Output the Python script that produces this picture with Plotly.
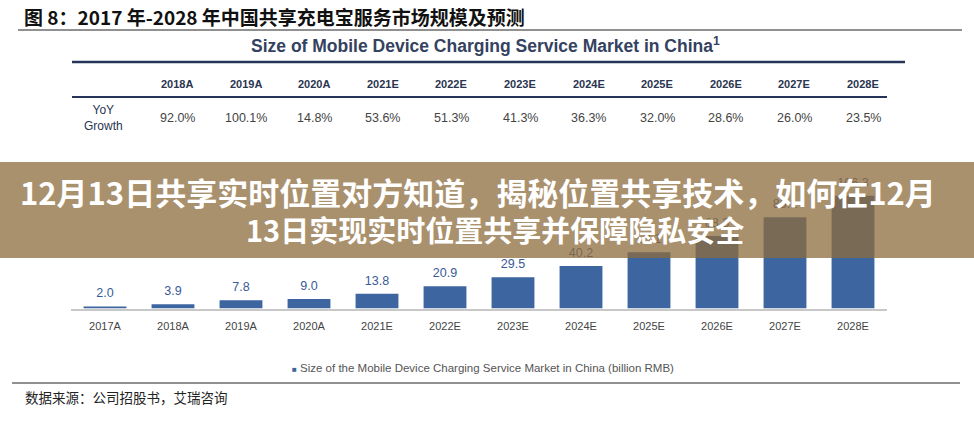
import plotly.graph_objects as go

W, H = 974, 421

# ---- data ----
categories = ["2017A", "2018A", "2019A", "2020A", "2021E", "2022E",
              "2023E", "2024E", "2025E", "2026E", "2027E", "2028E"]
market_size = [2.0, 3.9, 7.8, 9.0, 13.8, 20.9, 29.5, 40.2, 53.1, 68.3, 86.1, 106.3]

table_years = ["2018A", "2019A", "2020A", "2021E", "2022E", "2023E",
               "2024E", "2025E", "2026E", "2027E", "2028E"]
yoy_growth = ["92.0%", "100.1%", "14.8%", "53.6%", "51.3%", "41.3%",
              "36.3%", "32.0%", "28.6%", "26.0%", "23.5%"]

fig_title = "图 8：2017 年-2028 年中国共享充电宝服务市场规模及预测"
chart_title = "Size of Mobile Device Charging Service Market in China<sup>1</sup>"
legend_text = "Size of the Mobile Device Charging Service Market in China (billion RMB)"
source_text = "数据来源：公司招股书，艾瑞咨询"
banner_line1 = "12月13日共享实时位置对方知道，揭秘位置共享技术，如何在12月"
banner_line2 = "13日实现实时位置共享并保障隐私安全"


def px(x):
    return x / W


def py(y):
    return 1 - y / H


BAR = "#3d65a0"
NAVY = "#26345a"
LAT = "Liberation Sans, Arial, sans-serif"
CJK = "Noto Sans CJK SC, sans-serif"

fig = go.Figure()
fig.add_trace(go.Bar(
    x=categories, y=market_size, marker=dict(color=BAR, line=dict(width=0)),
    width=0.63, hoverinfo="skip", showlegend=False,
))
fig.add_trace(go.Scatter(
    x=categories, y=market_size, mode="markers+text",
    text=[f"{v:.1f}" for v in market_size], textposition="top center",
    marker=dict(size=8, color="rgba(0,0,0,0)"),
    textfont=dict(family=LAT, size=12.5, color="#3a5a95"),
    cliponaxis=False, hoverinfo="skip", showlegend=False,
))

base_y, top_y = 308.5, 190
ppu = 1.06
fig.update_layout(
    width=W, height=H, autosize=False,
    margin=dict(l=0, r=0, t=0, b=0),
    paper_bgcolor="white", plot_bgcolor="white",
    xaxis=dict(domain=[px(71), px(887)], range=[-0.5, 11.5], type="category",
               showline=True, linecolor="#c8c8c8", linewidth=2, ticks="",
               showgrid=False, zeroline=False, ticklabelstandoff=6,
               tickfont=dict(family=LAT, size=11, color="#444")),
    yaxis=dict(domain=[py(base_y), py(top_y)], range=[0, (base_y - top_y) / ppu],
               visible=False, showgrid=False, zeroline=False),
    bargap=0.3,
)

shapes = [
    dict(type="line", xref="paper", yref="paper", x0=px(18), x1=px(962), y0=py(30), y1=py(30),
         line=dict(color="#222", width=1)),
    dict(type="line", xref="paper", yref="paper", x0=px(72), x1=px(905), y0=py(62), y1=py(62),
         line=dict(color=NAVY, width=2.5)),
    dict(type="line", xref="paper", yref="paper", x0=px(72), x1=px(887), y0=py(97), y1=py(97),
         line=dict(color=NAVY, width=2)),
    dict(type="line", xref="paper", yref="paper", x0=px(12), x1=px(960), y0=py(383), y1=py(383),
         line=dict(color="#222", width=1)),
    dict(type="rect", xref="paper", yref="paper", x0=0, x1=1, y0=py(258), y1=py(162),
         fillcolor="rgba(142,108,62,0.75)", line=dict(width=0), layer="above"),
]

ann = []
ann.append(dict(x=px(22), y=py(16), text=fig_title, xanchor="left", yanchor="middle",
                font=dict(family=CJK, size=19, color="#111", weight="bold")))
ann.append(dict(x=px(485), y=py(45), text=chart_title, xanchor="center", yanchor="middle",
                font=dict(family=LAT, size=17.5, color="#34425f", weight="bold")))
for i, (yr, g) in enumerate(zip(table_years, yoy_growth)):
    cx = 177 + 68.6 * i
    ann.append(dict(x=px(cx), y=py(84), text=yr, xanchor="center", yanchor="middle",
                    font=dict(family=LAT, size=11, color="#2a3550", weight="bold")))
    ann.append(dict(x=px(cx), y=py(118), text=g, xanchor="center", yanchor="middle",
                    font=dict(family=LAT, size=12.5, color="#444")))
ann.append(dict(x=px(103), y=py(118), text="YoY<br>Growth", xanchor="center", yanchor="middle",
                font=dict(family=LAT, size=12, color="#2a3550")))
ann.append(dict(x=px(483), y=py(368),
                text=f'<span style="color:{BAR};font-size:8px">■</span> {legend_text}',
                xanchor="center", yanchor="middle",
                font=dict(family=LAT, size=11.5, color="#555")))
ann.append(dict(x=px(23), y=py(397), text=source_text, xanchor="left", yanchor="middle",
                font=dict(family=CJK, size=13.5, color="#222")))
ann.append(dict(x=px(478), y=py(192), text=banner_line1, xanchor="center", yanchor="middle",
                font=dict(family=CJK, size=31, color="white", weight="bold")))
ann.append(dict(x=px(495), y=py(229), text=banner_line2, xanchor="center", yanchor="middle",
                font=dict(family=CJK, size=29, color="white", weight="bold")))
for a in ann:
    a.update(xref="paper", yref="paper", showarrow=False)

fig.update_layout(shapes=shapes, annotations=ann)
fig.write_html("out.html", config={"displayModeBar": False},
               post_script="document.body.style.margin='0px';")
